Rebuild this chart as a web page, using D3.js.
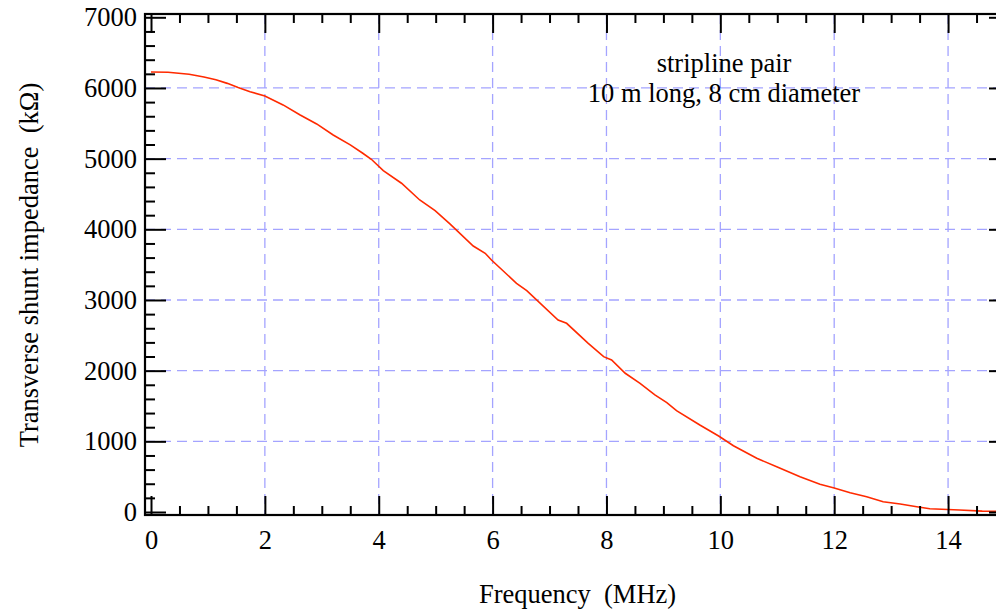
<!DOCTYPE html>
<html>
<head>
<meta charset="utf-8">
<script src="https://cdn.jsdelivr.net/npm/d3@7"></script>
<style>
  body { margin: 0; background: #fff; }
  svg { display: block; font-family: "Liberation Serif", "Times New Roman", serif; }
  text { white-space: pre; }
</style>
</head>
<body>
<div id="chart"></div>
<script>
// frequency (MHz) and impedance (kOhm)
const freq = [0, 0.3, 0.67, 0.93, 1.14, 1.34, 1.53, 1.74, 2.0, 2.32, 2.62, 2.91, 3.2, 3.5, 3.72, 3.87,
  4.08, 4.4, 4.72, 4.99, 5.25, 5.66, 5.87, 5.98, 6.42, 6.6, 7.15, 7.3, 7.68, 7.95,
  8.09, 8.33, 8.59, 8.85, 9.06, 9.23, 9.64, 9.97, 10.23, 10.64, 10.99, 11.4, 11.75, 12.0,
  12.28, 12.57, 12.86, 13.16, 13.45, 13.68, 14.2, 14.6, 15];
const impedance = [6225, 6222, 6195, 6155, 6115, 6065, 6005, 5948, 5887, 5760, 5618, 5491, 5335, 5194, 5076, 4991,
  4830, 4652, 4415, 4264, 4076, 3764, 3661, 3566, 3236, 3132, 2717, 2670, 2387, 2198,
  2151, 1963, 1821, 1656, 1547, 1434, 1231, 1076, 938, 760, 641, 500, 392, 340,
  273, 217, 146, 113, 75, 45, 28, 12, 8];

const xMajor = [0, 2, 4, 6, 8, 10, 12, 14];
const yMajor = [0, 1000, 2000, 3000, 4000, 5000, 6000, 7000];
const xGrid = [2, 4, 6, 8, 10, 12, 14];
const yGrid = [1000, 2000, 3000, 4000, 5000, 6000];

const xLabel = "Frequency  (MHz)";
const yLabel = "Transverse shunt impedance  (k\u03A9)";
const note = ["stripline pair", "10 m long, 8 cm diameter"];

const width = 996, height = 612;
const frame = { left: 145, top: 14, right: 1010, bottom: 515 };
const fontSize = "26.5px";

const x = d3.scaleLinear().domain([0, 15]).range([151, 1005]);
const y = d3.scaleLinear().domain([0, 7000]).range([512, 17.3]);

const xMinor = d3.range(0, 15.01, 0.5).filter(v => v % 2 !== 0);
const yMinor = d3.range(0, 7001, 200).filter(v => v % 1000 !== 0);

const svg = d3.select("#chart").append("svg")
  .attr("width", width)
  .attr("height", height);

// grid
svg.append("g").selectAll("line").data(xGrid).join("line")
  .attr("x1", d => x(d)).attr("x2", d => x(d))
  .attr("y1", frame.top).attr("y2", frame.bottom)
  .attr("stroke", "#a4a4ff").attr("stroke-width", 1.3)
  .attr("stroke-dasharray", "10,6");
svg.append("g").selectAll("line").data(yGrid).join("line")
  .attr("x1", frame.left).attr("x2", frame.right)
  .attr("y1", d => y(d)).attr("y2", d => y(d))
  .attr("stroke", "#a4a4ff").attr("stroke-width", 1.3)
  .attr("stroke-dasharray", "10,6");

// curve
const line = d3.line()
  .x((d, i) => x(freq[i]))
  .y(d => y(d));
svg.append("path")
  .datum(impedance)
  .attr("fill", "none")
  .attr("stroke", "#ff2a00")
  .attr("stroke-width", 1.6)
  .attr("d", line);

// frame axes, ticks pointing inward
const styleAxis = g => {
  g.select(".domain").remove();
  g.selectAll(".tick line").attr("stroke", "#000").attr("stroke-width", 2);
  g.selectAll(".tick text").attr("fill", "#000").style("font-size", fontSize)
    .style("font-family", "'Liberation Serif', 'Times New Roman', serif");
};

svg.append("g")
  .attr("transform", `translate(0,${frame.bottom})`)
  .call(d3.axisBottom(x).tickValues(xMajor).tickSize(-19).tickPadding(15).tickFormat(d3.format("d")))
  .call(styleAxis);
svg.append("g")
  .attr("transform", `translate(0,${frame.bottom})`)
  .call(d3.axisBottom(x).tickValues(xMinor).tickSize(-9).tickFormat(""))
  .call(styleAxis);
svg.append("g")
  .attr("transform", `translate(0,${frame.top})`)
  .call(d3.axisTop(x).tickValues(xMajor).tickSize(-19).tickFormat(""))
  .call(styleAxis);
svg.append("g")
  .attr("transform", `translate(0,${frame.top})`)
  .call(d3.axisTop(x).tickValues(xMinor).tickSize(-9).tickFormat(""))
  .call(styleAxis);

svg.append("g")
  .attr("transform", `translate(${frame.left},0)`)
  .call(d3.axisLeft(y).tickValues(yMajor).tickSize(-21).tickPadding(8).tickFormat(d3.format("d")))
  .call(styleAxis);
svg.append("g")
  .attr("transform", `translate(${frame.left},0)`)
  .call(d3.axisLeft(y).tickValues(yMinor).tickSize(-10).tickFormat(""))
  .call(styleAxis);
svg.append("g")
  .attr("transform", `translate(${frame.right},0)`)
  .call(d3.axisRight(y).tickValues(yMajor).tickSize(-21).tickFormat(""))
  .call(styleAxis);
svg.append("g")
  .attr("transform", `translate(${frame.right},0)`)
  .call(d3.axisRight(y).tickValues(yMinor).tickSize(-10).tickFormat(""))
  .call(styleAxis);

svg.append("rect")
  .attr("x", frame.left).attr("y", frame.top)
  .attr("width", frame.right - frame.left).attr("height", frame.bottom - frame.top)
  .attr("fill", "none").attr("stroke", "#000").attr("stroke-width", 2.2);

// labels
svg.append("text")
  .attr("x", 577.5).attr("y", 603)
  .attr("text-anchor", "middle")
  .style("font-size", fontSize)
  .text(xLabel);

svg.append("text")
  .attr("transform", "translate(38,265) rotate(-90)")
  .attr("text-anchor", "middle")
  .style("font-size", fontSize)
  .text(yLabel);

svg.append("g").selectAll("text").data(note).join("text")
  .attr("x", 724)
  .attr("y", (d, i) => 72 + i * 29.7)
  .attr("text-anchor", "middle")
  .style("font-size", fontSize)
  .text(d => d);
</script>
</body>
</html>
